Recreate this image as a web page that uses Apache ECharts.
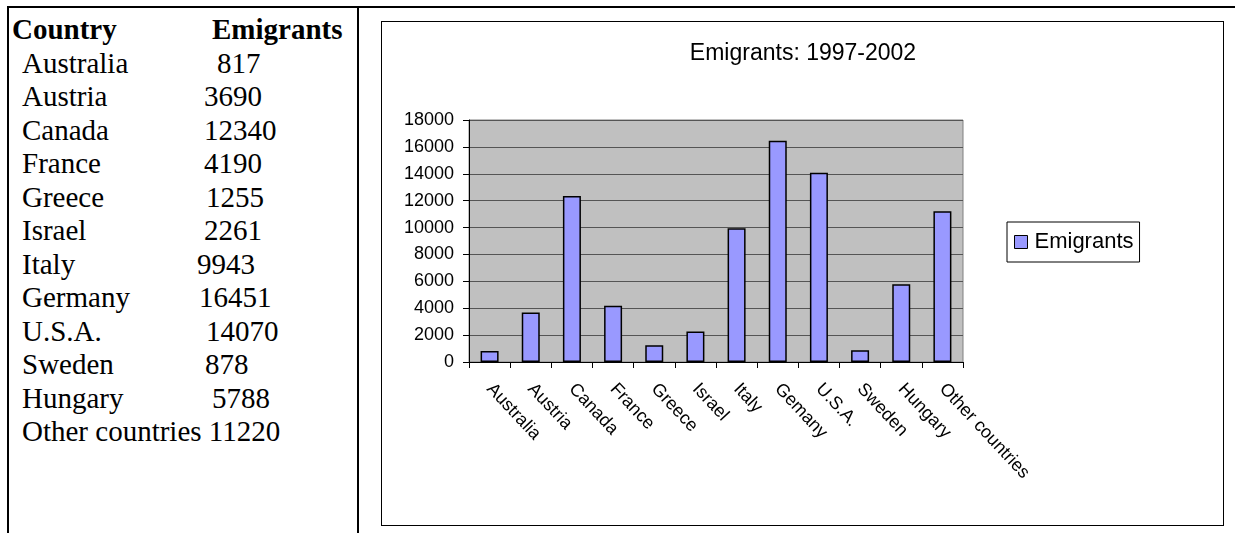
<!DOCTYPE html>
<html>
<head>
<meta charset="utf-8">
<script src="https://cdn.jsdelivr.net/npm/echarts@6/dist/echarts.min.js"></script>
<style>
  html, body { margin: 0; padding: 0; background: #fff; }
  body { width: 1235px; height: 533px; position: relative; overflow: hidden; }
  .rule { position: absolute; background: #000; }
  #table { position: absolute; left: 0; top: 0; width: 360px; height: 533px;
           font-family: "Liberation Serif", "Times New Roman", serif; font-size: 29px; color: #000; }
  .cell { position: absolute; white-space: pre; line-height: 1; }
  #frame { position: absolute; left: 381px; top: 21px; width: 843px; height: 505px;
           border: 1px solid #000; box-sizing: border-box; }
  #chart { position: absolute; left: 0; top: 0; width: 1235px; height: 533px; }
</style>
</head>
<body>
<div class="rule" style="left:7px; top:6px; width:1228px; height:2px;"></div>
<div class="rule" style="left:7px; top:6px; width:2px; height:527px;"></div>
<div class="rule" style="left:357px; top:6px; width:2px; height:527px;"></div>
<div id="table"></div>
<div id="frame"></div>
<div id="chart"></div>
<script>
// Emigrants by destination country, 1997-2002
const tableHeader = ['Country', 'Emigrants'];
const tableCountries = ['Australia', 'Austria', 'Canada', 'France', 'Greece', 'Israel',
  'Italy', 'Germany', 'U.S.A.', 'Sweden', 'Hungary', 'Other countries'];
const chartCategories = ['Australia', 'Austria', 'Canada', 'France', 'Greece', 'Israel',
  'Italy', 'Gemany', 'U.S.A.', 'Sweden', 'Hungary', 'Other countries'];
const emigrants = [817, 3690, 12340, 4190, 1255, 2261, 9943, 16451, 14070, 878, 5788, 11220];
const chartTitle = 'Emigrants: 1997-2002';
const seriesName = 'Emigrants';

// ---- table on the left ----
const table = document.getElementById('table');
const rowTop = 15, rowStep = 33.5;
// hand-typed spacing of the number column
const valueX = [217, 204, 204, 204, 206, 204, 197, 199, 206, 205, 212, 204];
function cell(text, x, y, bold) {
  const d = document.createElement('div');
  d.className = 'cell';
  d.textContent = text;
  d.style.left = x + 'px';
  d.style.top = y + 'px';
  if (bold) d.style.fontWeight = 'bold';
  table.appendChild(d);
}
cell(tableHeader[0], 12, rowTop, true);
cell(tableHeader[1], 212, rowTop, true);
tableCountries.forEach((c, i) => {
  const y = rowTop + rowStep * (i + 1);
  if (i === tableCountries.length - 1) {
    cell(c + ' ' + emigrants[i], 22, y, false);
  } else {
    cell(c, 22, y, false);
    cell(String(emigrants[i]), valueX[i], y, false);
  }
});

// ---- chart ----
const font = '"Liberation Sans", Arial, sans-serif';
const chart = echarts.init(document.getElementById('chart'), null, { renderer: 'canvas' });
chart.setOption({
  animation: false,
  backgroundColor: 'transparent',
  title: {
    text: chartTitle,
    left: 798,
    top: 37,
    textAlign: 'center',
    textStyle: { fontFamily: font, fontSize: 23, fontWeight: 'normal', color: '#000' }
  },
  legend: {
    data: [seriesName],
    orient: 'vertical',
    left: 1007,
    top: 222,
    padding: [9, 6, 9, 7],
    borderColor: '#000',
    borderWidth: 1,
    backgroundColor: '#fff',
    icon: 'rect',
    itemWidth: 13,
    itemHeight: 13,
    itemGap: 0,
    itemStyle: { borderColor: '#000', borderWidth: 1 },
    textStyle: { fontFamily: font, fontSize: 22, color: '#000', padding: [0, 0, 0, 2] }
  },
  grid: {
    left: 469,
    top: 120,
    width: 494,
    height: 242,
    show: true,
    backgroundColor: '#C0C0C0',
    borderColor: '#808080',
    borderWidth: 1
  },
  xAxis: {
    type: 'category',
    data: chartCategories,
    axisLine: { lineStyle: { color: '#000', width: 1 } },
    axisTick: { show: true, length: 6, lineStyle: { color: '#000' } },
    axisLabel: {
      interval: 0,
      rotate: -47,
      margin: 24,
      fontFamily: font,
      fontSize: 18,
      color: '#000'
    }
  },
  yAxis: {
    type: 'value',
    min: 0,
    max: 18000,
    interval: 2000,
    axisLine: { show: true, lineStyle: { color: '#000', width: 1 } },
    axisTick: { show: true, length: 6, lineStyle: { color: '#000' } },
    axisLabel: {
      margin: 15, fontFamily: font, fontSize: 18, color: '#000',
      formatter: v => String(v)
    },
    splitLine: { lineStyle: { color: '#555', width: 1 } }
  },
  series: [{
    name: seriesName,
    type: 'bar',
    data: emigrants,
    barWidth: 18,
    itemStyle: { color: '#9999FF', borderColor: '#000', borderWidth: 1.5 }
  }]
});
</script>
</body>
</html>
